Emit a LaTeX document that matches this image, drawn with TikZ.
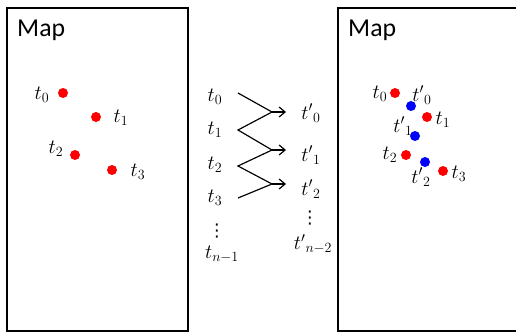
\documentclass[tikz,border=0pt]{standalone}
\usepackage{fontspec}
\newfontfamily\mapfont{Carlito}
\newfontfamily\symfont{DejaVu Sans}
\usepackage{tikz}
\usetikzlibrary{arrows.meta, calc}

\begin{document}
\begin{tikzpicture}[
    x=0.03cm, y=-0.03cm,
    mapbox/.style={draw, line width=1.6pt},
    maptitle/.style={font=\mapfont\fontsize{22}{25}\selectfont, anchor=base west, inner sep=0pt},
    lbl/.style={font=\LARGE, inner sep=0pt},
    colldots/.style={font=\symfont\fontsize{15}{15}\selectfont, inner sep=0pt, anchor=base},
    pt/.style={circle, fill=#1, minimum size=0.3cm, inner sep=0pt},
    zig/.style={line width=1pt},
    arrow/.style={-{Straight Barb[length=1.8mm, width=3mm]}, line width=1pt},
]
\useasboundingbox (0,0) rectangle (516,332);
\clip (0,0) rectangle (516,332);
% Left map
\draw[mapbox] (7,8) rectangle (188,331);
\node[maptitle] (mapL) at (17,36) {Map};
\node[pt=red] (L0) at (63,93) {};
\node[pt=red] (L1) at (96,117) {};
\node[pt=red] (L2) at (75,155) {};
\node[pt=red] (L3) at (112,170) {};
\node[lbl] (lt0) at (42,95) {$t_0$};
\node[lbl] (lt1) at (121,118) {$t_1$};
\node[lbl] (lt2) at (56,149) {$t_2$};
\node[lbl] (lt3) at (138,172) {$t_3$};
% Middle - matching
\node[lbl] (m0) at (215,97) {$t_0$};
\node[lbl] (m1) at (215,130) {$t_1$};
\node[lbl] (m2) at (215,165) {$t_2$};
\node[lbl] (m3) at (215,198) {$t_3$};
\node[colldots] (mdots) at (217,236) {⋮};
\node[lbl] (mn) at (222,254) {$t_{n-1}$};
\node[lbl] (p0) at (311,113) {${t'}_0$};
\node[lbl] (p1) at (311,155) {${t'}_1$};
\node[lbl] (p2) at (311,189) {${t'}_2$};
\node[colldots] (pdots) at (310,223) {⋮};
\node[lbl] (pn) at (313,244) {${t'}_{n-2}$};
\coordinate (v0) at (238,93);
\coordinate (v1) at (238,130);
\coordinate (v2) at (238,166);
\coordinate (v3) at (238,198);
\coordinate (j0) at (272,112);
\coordinate (j1) at (272,150);
\coordinate (j2) at (272,184);
\coordinate (a0) at (286,112);
\coordinate (a1) at (286,150);
\coordinate (a2) at (286,184);
\draw[zig] (v0) -- (j0) -- (v1) -- (j1) -- (v2) -- (j2) -- (v3);
\draw[arrow] (j0) -- (a0);
\draw[arrow] (j1) -- (a1);
\draw[arrow] (j2) -- (a2);
% Right map
\draw[mapbox] (338,8) rectangle (530,331);
\node[maptitle] (mapR) at (348,36) {Map};
\node[pt=red] (R0) at (395,93) {};
\node[pt=blue] (Q0) at (411,106) {};
\node[pt=red] (R1) at (427,117) {};
\node[pt=blue] (Q1) at (415,136) {};
\node[pt=red] (R2) at (406,155) {};
\node[pt=blue] (Q2) at (425,162) {};
\node[pt=red] (R3) at (443,171) {};
\node[lbl] (rt0) at (380,94) {$t_0$};
\node[lbl] (rq0) at (422,95) {${t'}_0$};
\node[lbl] (rt1) at (443,120) {$t_1$};
\node[lbl] (rq1) at (403,126) {${t'}_1$};
\node[lbl] (rt2) at (390,155) {$t_2$};
\node[lbl] (rq2) at (421,177) {${t'}_2$};
\node[lbl] (rt3) at (459,174) {$t_3$};
\end{tikzpicture}
\end{document}
